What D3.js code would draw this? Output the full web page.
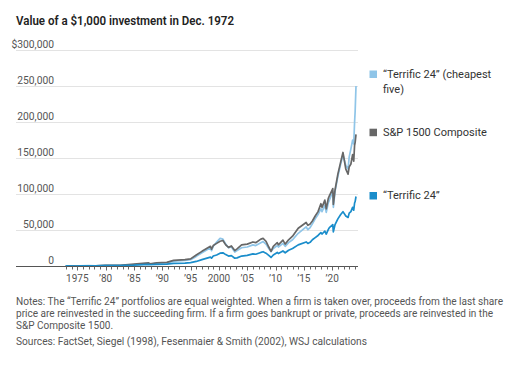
<!DOCTYPE html>
<html><head><meta charset="utf-8">
<script src="https://cdn.jsdelivr.net/npm/d3@7"></script>
<style>
html,body{margin:0;padding:0;background:#fff;}
svg{display:block;font-family:Roboto,"Noto Sans",sans-serif;}
</style></head>
<body>
<svg id="chart" width="513" height="369"></svg>
<script>
// ---- data (decimal year, dollar value) ----
const dates = [1972.95, 1974.75, 1975.5, 1977, 1978.2, 1980, 1981.5, 1982.6, 1983.5, 1985,
  1987.6, 1987.85, 1989, 1990.8, 1992, 1994, 1995, 1996, 1997, 1998.5,
  1998.7, 1999, 1999.6, 2000.2, 2000.7, 2001.2, 2001.7, 2002.2, 2002.8, 2003.2,
  2004, 2005, 2006, 2006.5, 2007.4, 2007.8, 2008.3, 2008.8, 2009.2, 2009.6,
  2010.3, 2010.5, 2011.3, 2011.7, 2012.3, 2013, 2014, 2015.4, 2015.7, 2016.1,
  2016.5, 2017, 2017.5, 2018, 2018.2, 2018.7, 2018.95, 2019.3, 2019.5, 2020.1,
  2020.2, 2020.5, 2021, 2021.5, 2021.9, 2022.4, 2022.8, 2023, 2023.3, 2023.6,
  2023.8, 2023.95, 2024.05, 2024.2];

const cheapestFive = [1000, 550, 900, 1100, 1000, 1500, 1600, 1500, 2200, 2800,
  4300, 3300, 4500, 5000, 7500, 8500, 9500, 14000, 19000, 26000,
  22000, 28000, 34000, 39000, 38000, 31000, 26000, 27000, 20000, 22000,
  26000, 27000, 30000, 29000, 33000, 34500, 31000, 25000, 20500, 25000,
  29000, 27000, 32000, 28000, 33000, 37000, 46000, 55000, 51000, 54000,
  59000, 66000, 72000, 80000, 76000, 85000, 75000, 88000, 92000, 104000,
  82000, 104000, 125000, 142000, 155000, 140000, 135000, 152000, 163000, 175000,
  170000, 200000, 215000, 250000];

const sp1500 = [1000, 550, 850, 1050, 950, 1600, 1700, 1500, 2400, 3200,
  5000, 3800, 5000, 5800, 8500, 9500, 10500, 16000, 21000, 28000,
  24000, 29000, 32000, 35000, 36000, 30000, 26500, 28500, 22000, 24500,
  30000, 31000, 34000, 33000, 38000, 39000, 35000, 27000, 21000, 28000,
  33000, 30000, 36500, 31000, 37000, 42000, 53000, 61000, 57000, 59000,
  63000, 70000, 76000, 87000, 82000, 92000, 80000, 94000, 98000, 108000,
  86000, 106000, 128000, 145000, 158000, 135000, 128000, 138000, 142000, 155000,
  146000, 168000, 172000, 183000];

const terrific24 = [1000, 600, 800, 950, 950, 1200, 1300, 1250, 1700, 2000,
  3000, 2400, 3000, 3200, 4200, 4800, 5300, 7000, 9500, 13000,
  11500, 14500, 16000, 18500, 19000, 16500, 14500, 15000, 11500, 12000,
  14500, 15500, 17500, 17000, 19500, 20500, 18500, 15500, 12500, 16000,
  19500, 18000, 21500, 19000, 22500, 25000, 30000, 34000, 32000, 33500,
  37000, 40000, 43000, 47000, 45000, 49000, 45000, 51000, 54000, 58000,
  48000, 58000, 66000, 72000, 76000, 70000, 68000, 74000, 76000, 82000,
  78000, 88000, 90000, 97000];

const seriesNames = ["\u201CTerrific 24\u201D (cheapest five)", "S&P 1500 Composite", "\u201CTerrific 24\u201D"];
const yTicks = [0, 50000, 100000, 150000, 200000, 250000, 300000];
const xLabelYears = [1975, 1980, 1985, 1990, 1995, 2000, 2005, 2010, 2015, 2020];
const xLabels = ["1975", "\u201980", "\u201985", "\u201990", "\u201995", "2000", "\u201905", "\u201910", "\u201915", "\u201920"];
const title = "Value of a $1,000 investment in Dec. 1972";
const notes = [
  "Notes: The \u201CTerrific 24\u201D portfolios are equal weighted. When a firm is taken over, proceeds from the last share",
  "price are reinvested in the succeeding firm. If a firm goes bankrupt or private, proceeds are reinvested in the",
  "S&P Composite 1500.",
  "Sources: FactSet, Siegel (1998), Fesenmaier & Smith (2002), WSJ calculations"
];

// ---- layout ----
const svg = d3.select("#chart");
const colors = ["#8fc5e8", "#676767", "#1a8dcb"];
const x = d3.scaleLinear().domain([1972.95, 2024.2]).range([65.7, 356]);
const y = d3.scaleLinear().domain([0, 300000]).range([266.5, 50]);
const gridX0 = 16, gridX1 = 358;

// title
svg.append("text").attr("x", 16).attr("y", 25)
  .attr("font-size", 13.5).attr("font-weight", 600).attr("fill", "#222")
  .attr("textLength", 218).attr("lengthAdjust", "spacingAndGlyphs")
  .text(title);

// gridlines + y labels
const yg = svg.append("g");
yg.selectAll("line").data(yTicks.filter(d => d > 0)).join("line")
  .attr("x1", gridX0).attr("x2", gridX1)
  .attr("y1", d => Math.round(y(d)) + 0.5).attr("y2", d => Math.round(y(d)) + 0.5)
  .attr("stroke", "#e3e3e3").attr("stroke-width", 1);
yg.selectAll("text").data(yTicks).join("text")
  .attr("x", 54).attr("y", d => y(d) - 2.5)
  .attr("text-anchor", "end").attr("font-size", 10.3).attr("fill", "#555")
  .text(d => d === 300000 ? "$" + d3.format(",")(d) : d3.format(",")(d));

// lines
const line = d3.line().x(d => x(d[0])).y(d => y(d[1]));
const allSeries = [cheapestFive, sp1500, terrific24];
allSeries.forEach((vals, i) => {
  svg.append("path")
    .datum(dates.map((t, j) => [t, vals[j]]))
    .attr("d", line).attr("fill", "none")
    .attr("stroke", colors[i]).attr("stroke-width", 1.7)
    .attr("stroke-linejoin", "round");
});

// x axis baseline + ticks
const axisY = 266.5;
svg.append("line").attr("x1", gridX0).attr("x2", gridX1)
  .attr("y1", axisY).attr("y2", axisY).attr("stroke", "#555").attr("stroke-width", 1.2);
const tickYears = d3.range(1973, 2025);
svg.append("g").selectAll("line").data(tickYears).join("line")
  .attr("x1", d => Math.round(x(d)) + 0.5).attr("x2", d => Math.round(x(d)) + 0.5)
  .attr("y1", axisY).attr("y2", d => axisY + (d % 5 === 0 ? 4 : 3))
  .attr("stroke", "#666").attr("stroke-width", 1);
svg.append("g").selectAll("text").data(xLabelYears).join("text")
  .attr("x", d => x(d)).attr("y", 282)
  .attr("text-anchor", "middle").attr("font-size", 10).attr("fill", "#555")
  .text((d, i) => xLabels[i]);

// legend
const legend = [
  { lines: ["\u201CTerrific 24\u201D (cheapest", "five)"], y: 73.5, c: colors[0] },
  { lines: ["S&P 1500 Composite"], y: 131.7, c: colors[1] },
  { lines: ["\u201CTerrific 24\u201D"], y: 195, c: colors[2] }
];
legend.forEach(l => {
  svg.append("rect").attr("x", 369.5).attr("y", l.y - 3).attr("width", 7.5).attr("height", 7.5).attr("fill", l.c);
  l.lines.forEach((t, k) => {
    svg.append("text").attr("x", 383).attr("y", l.y + 4 + k * 15.3)
      .attr("font-size", 11).attr("fill", "#333").text(t);
  });
});

// notes
const noteY = [305, 317, 329, 345];
const noteW = [487, 477, null, 351];
notes.forEach((t, i) => {
  const tx = svg.append("text").attr("x", 16).attr("y", noteY[i])
    .attr("font-size", 10).attr("fill", "#555").text(t);
  if (noteW[i]) tx.attr("textLength", noteW[i]).attr("lengthAdjust", "spacingAndGlyphs");
});
</script>
</body></html>
